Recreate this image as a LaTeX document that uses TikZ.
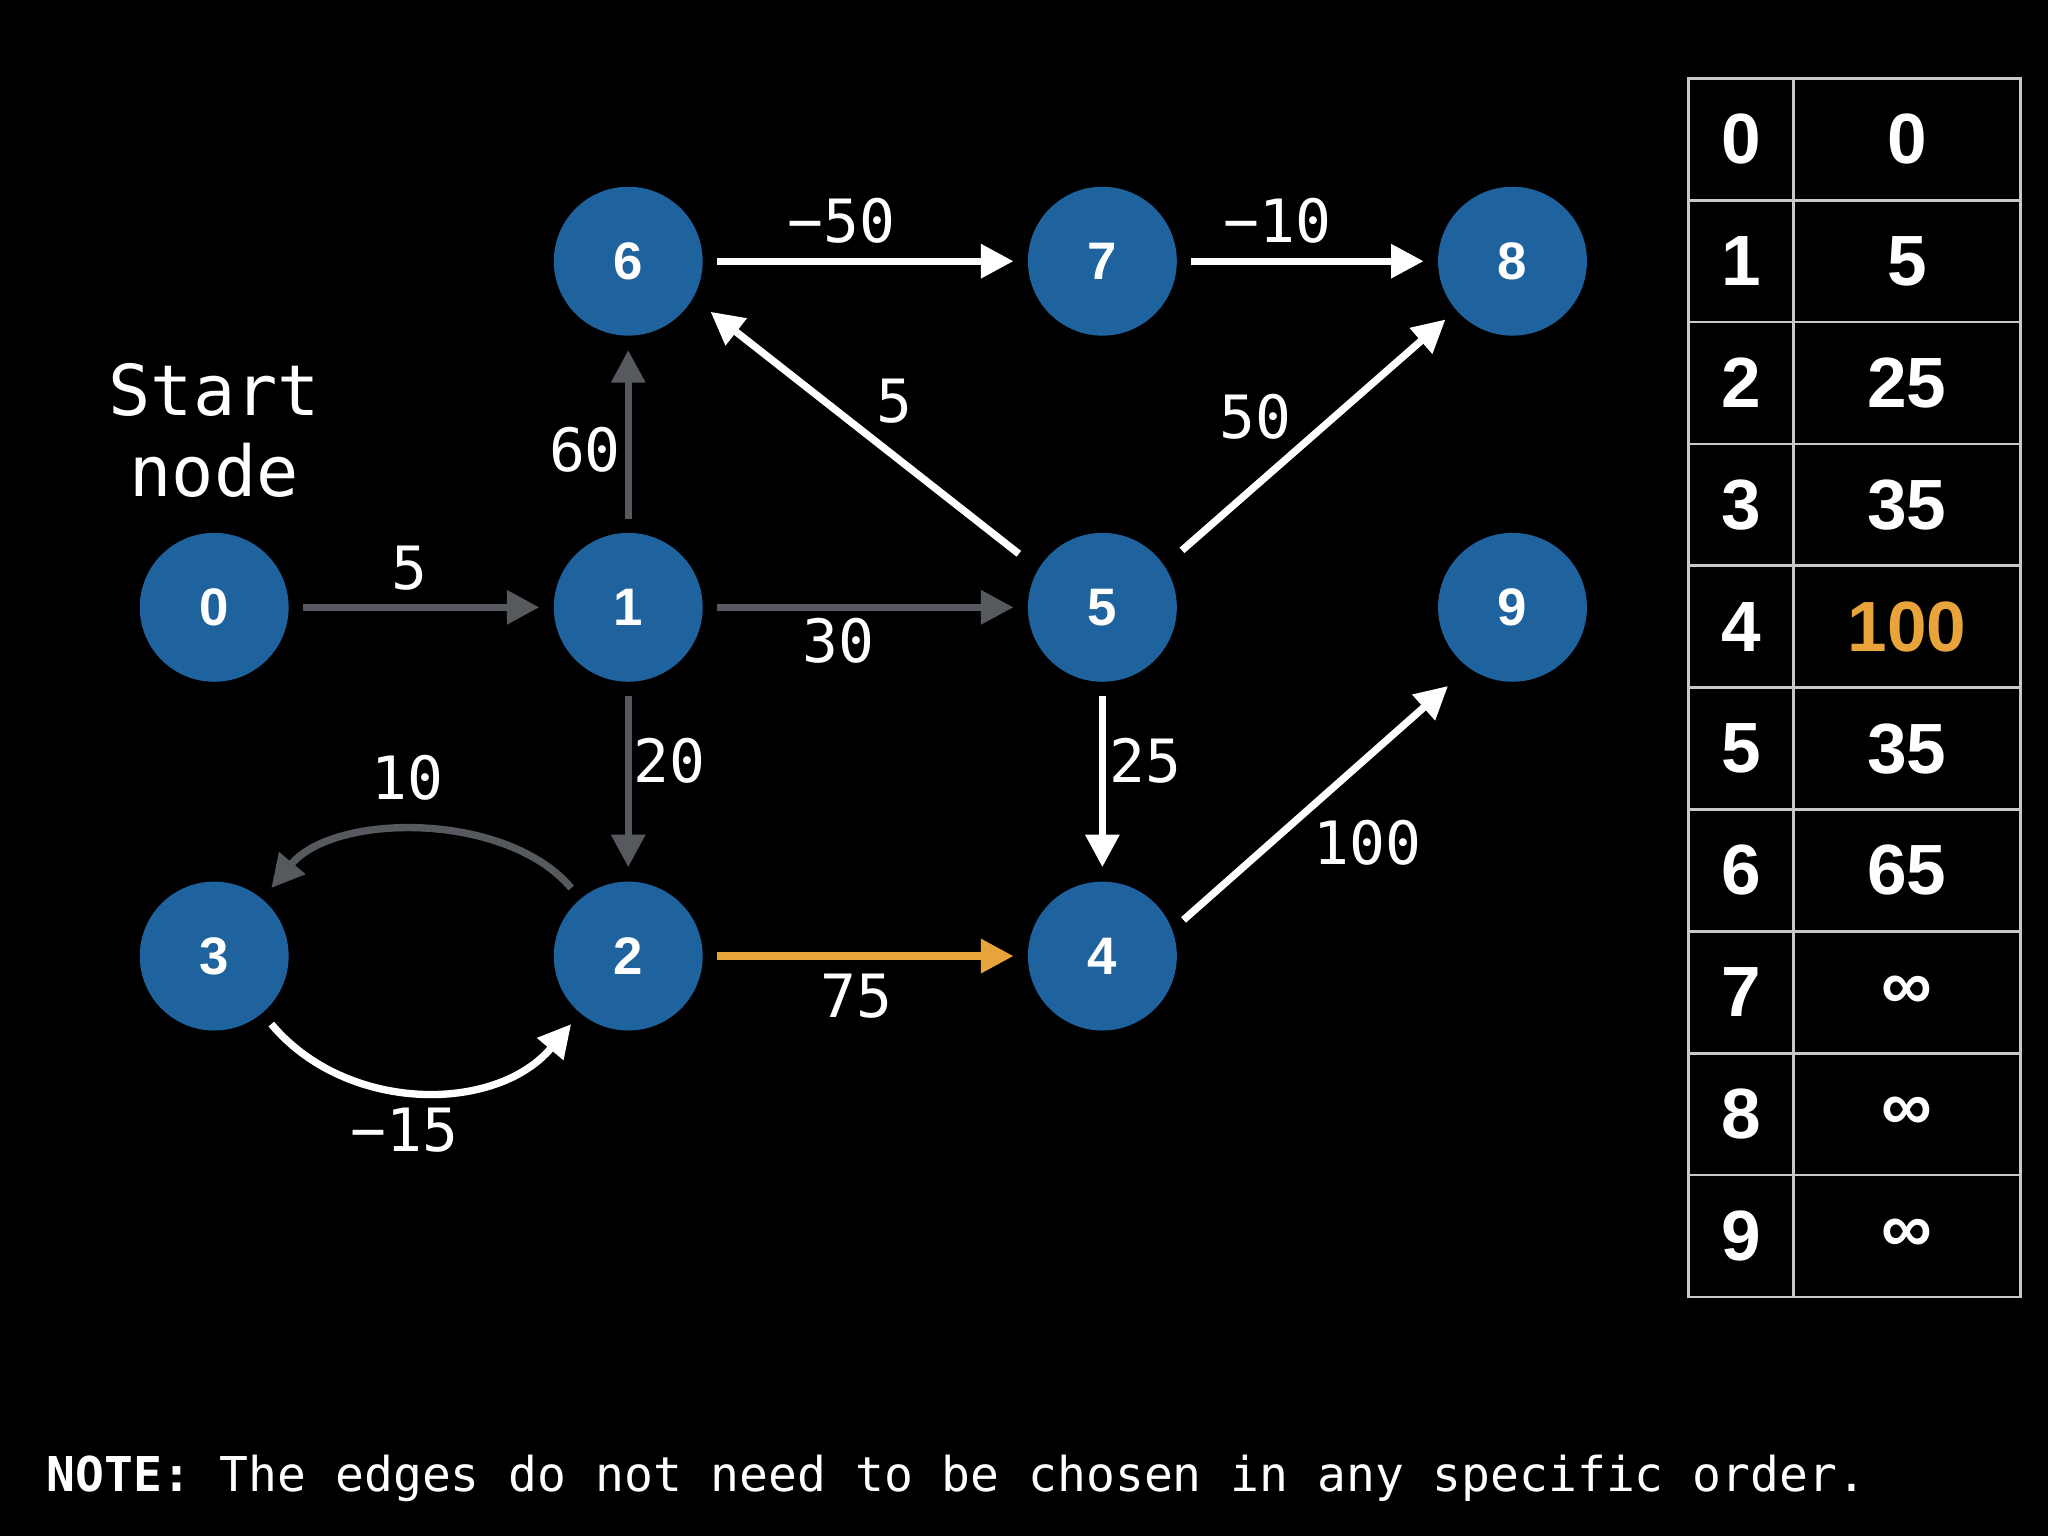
\documentclass[tikz,border=0pt]{standalone}
\usepackage{fontspec}
\setmainfont{Liberation Sans}
\setmonofont{DejaVu Sans Mono}
\usepackage{tikz}
\usetikzlibrary{arrows.meta,positioning}

\definecolor{nodeblue}{RGB}{30,98,158}
\definecolor{edgegray}{RGB}{86,89,94}
\definecolor{hlorange}{RGB}{232,163,58}
\definecolor{gridgray}{RGB}{200,200,200}

\begin{document}
\begin{tikzpicture}[>={Triangle[length=0.25cm,width=0.25cm]}, node distance=3.17cm]
			\tikzstyle{vertex} = [circle, fill=nodeblue, minimum size=1.14cm, inner sep=0pt, outer sep=0.11cm, text=white, font=\fontsize{11.5}{12}\selectfont\bfseries]
			\tikzstyle{weight} = [text=white, inner sep=1pt, font=\fontsize{13}{15}\selectfont\ttfamily]
			\tikzstyle{cell} = [draw=gridgray, line width=0.6pt, minimum height=0.933cm, inner sep=0pt, font=\fontsize{15.5}{17}\selectfont\bfseries]

			\fill[black] (0,0) rectangle (15.68,11.76);
			\useasboundingbox (0,0) rectangle (15.68,11.76);

			\begin{scope}
			\path[->, line width=1.6pt]

			node[vertex] (n0) at (1.64,7.11) {0}
			node[vertex, right of=n0] (n1) {1}
			node[vertex, right of=n1, node distance=3.63cm] (n5) {5}
			node[vertex, right of=n5, node distance=3.14cm] (n9) {9}
			node[vertex, above of=n1, node distance=2.65cm] (n6) {6}
			node[vertex, right of=n6, node distance=3.63cm] (n7) {7}
			node[vertex, right of=n7, node distance=3.14cm] (n8) {8}
			node[vertex, below of=n1, node distance=2.67cm] (n2) {2}
			node[vertex, left of=n2] (n3) {3}
			node[vertex, right of=n2, node distance=3.63cm] (n4) {4}

			(n0) edge[edgegray] node[weight, above=2pt, pos=0.45] {5} (n1)
			(n1) edge[edgegray] node[weight, left=-0.2pt, pos=0.41] {60} (n6)
			(n1) edge[edgegray] node[weight, below=0.6pt, pos=0.41] {30} (n5)
			(n1) edge[edgegray] node[weight, right=-0.7pt, pos=0.38] {20} (n2)
			(n2) edge[edgegray, out=130, in=50, looseness=0.85] node[weight, above=5pt, pos=0.54] {10} (n3)
			(n3) edge[white, out=-50, in=-130] node[weight, below=2pt, pos=0.45] {−15} (n2)
			(n2) edge[hlorange] node[weight, below=2pt, pos=0.47] {75} (n4)
			(n5) edge[white] node[weight, right=-0.2pt, pos=0.38] {25} (n4)
			(n5.148) edge[white, shorten <=0.08cm, shorten >=0.06cm] node[weight, above right=0.7pt, pos=0.5] {5} (n6.-31)
			(n5.35) edge[white, shorten <=0.07cm] node[weight, above left=0pt, pos=0.46] {50} (n8.221)
			(n4.24) edge[white, shorten >=0.1cm] node[weight, below right=0pt, pos=0.445] {100} (n9.232)
			(n6) edge[white] node[weight, above=2pt, pos=0.42] {−50} (n7)
			(n7) edge[white] node[weight, above=2pt, pos=0.37] {−10} (n8)
			;
			\end{scope}

			\node[weight, align=center, above=0.12cm of n0, font=\fontsize{15.3}{17.6}\selectfont\ttfamily] (start) {Start\\node};

			% distance table
			\foreach \r/\d/\c in {0/0/white, 1/5/white, 2/25/white, 3/35/white, 4/100/hlorange, 5/35/white, 6/65/white, 7/∞/white, 8/∞/white, 9/∞/white}
			{
				\node[cell, minimum width=0.80cm, text=white] (key\r) at (13.33, 11.16-0.933*\r-0.4665) {\r};
				\node[cell, minimum width=1.74cm, text=\c] (val\r) at (14.60, 11.16-0.933*\r-0.4665) {\d};
			}

			\node[anchor=base west, text=white, inner sep=0pt, font=\fontsize{10.45}{12}\selectfont\ttfamily] (note) at (0.35,0.34) {\textbf{NOTE:} The edges do not need to be chosen in any specific order.};

			\end{tikzpicture}
\end{document}
